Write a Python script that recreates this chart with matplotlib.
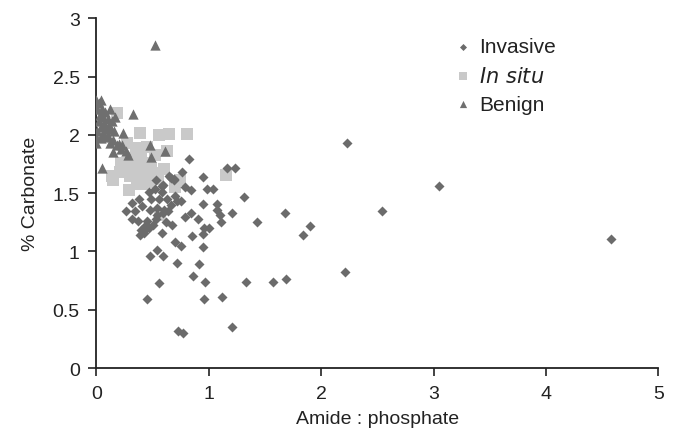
import matplotlib.pyplot as plt

plt.rcParams['font.family'] = ['Liberation Sans', 'DejaVu Sans']

# Invasive (diamonds)
invasive_x = [2.23, 3.05, 2.54, 4.58, 1.43, 1.68, 1.90, 1.84, 2.21, 1.57, 1.69,
              0.82, 1.16, 1.23, 0.95, 0.76, 0.98, 1.04, 0.84, 0.79, 1.31, 0.95,
              1.07, 1.07, 1.10, 1.11, 1.21, 1.00, 0.96, 0.95, 0.85, 0.67, 0.90,
              0.84, 0.79, 0.75, 0.58, 0.70, 0.75, 0.95, 0.54, 0.48, 0.59, 0.72,
              0.91, 0.86, 0.97, 1.33, 0.56, 0.45, 0.96, 1.12, 1.21, 0.73, 0.77,
              0.26, 0.32, 0.38, 0.32, 0.37, 0.41, 0.34, 0.47, 0.53, 0.52, 0.59,
              0.58, 0.65, 0.69, 0.49, 0.56, 0.63, 0.70, 0.48, 0.54, 0.60, 0.66,
              0.72, 0.45, 0.50, 0.44, 0.40, 0.39, 0.54, 0.59, 0.64, 0.53, 0.47,
              0.42, 0.66, 0.69, 0.58, 0.43, 0.62]
invasive_y = [1.93, 1.56, 1.35, 1.11, 1.25, 1.33, 1.22, 1.14, 0.82, 0.74, 0.76,
              1.79, 1.72, 1.72, 1.64, 1.68, 1.54, 1.54, 1.53, 1.55, 1.47, 1.41,
              1.41, 1.36, 1.31, 1.25, 1.33, 1.20, 1.20, 1.15, 1.13, 1.23, 1.28,
              1.33, 1.30, 1.43, 1.16, 1.08, 1.05, 1.04, 1.01, 0.96, 0.96, 0.90,
              0.89, 0.79, 0.74, 0.74, 0.73, 0.59, 0.59, 0.61, 0.35, 0.32, 0.30,
              1.35, 1.42, 1.45, 1.28, 1.26, 1.39, 1.35, 1.51, 1.61, 1.54, 1.57,
              1.51, 1.65, 1.62, 1.45, 1.45, 1.45, 1.48, 1.36, 1.37, 1.36, 1.40,
              1.43, 1.26, 1.23, 1.20, 1.18, 1.14, 1.31, 1.33, 1.35, 1.28, 1.20,
              1.16, 1.63, 1.61, 1.56, 1.22, 1.25]

# In situ (squares)
insitu_x = [0.18, 0.39, 0.56, 0.65, 0.81, 0.27, 0.35, 0.52, 0.63, 0.24, 0.33,
            0.22, 0.28, 0.42, 0.49, 0.60, 0.14, 0.21, 0.26, 0.30, 0.38, 0.45,
            0.52, 0.15, 0.29, 0.36, 0.42, 0.48, 0.55, 0.74, 0.70, 0.57, 1.15,
            0.31, 0.40, 0.46, 0.37, 0.45]
insitu_y = [2.19, 2.02, 2.00, 2.01, 2.01, 1.93, 1.89, 1.83, 1.86, 1.76, 1.75,
            1.76, 1.75, 1.71, 1.72, 1.71, 1.65, 1.68, 1.68, 1.65, 1.66, 1.66,
            1.67, 1.61, 1.53, 1.58, 1.58, 1.60, 1.62, 1.61, 1.55, 1.31, 1.66,
            1.79, 1.80, 1.76, 1.86, 1.90]

# Benign (triangles)
benign_x = [0.00, 0.04, 0.02, 0.01, 0.05, 0.08, 0.12, 0.17, 0.03, 0.06, 0.10,
            0.14, 0.02, 0.07, 0.11, 0.04, 0.09, 0.13, 0.01, 0.06, 0.16, 0.24,
            0.00, 0.04, 0.08, 0.15, 0.18, 0.00, 0.12, 0.20, 0.23, 0.22, 0.26,
            0.15, 0.28, 0.33, 0.52, 0.48, 0.61, 0.49, 0.05, 0.10, 0.06]
benign_y = [2.30, 2.30, 2.27, 2.22, 2.22, 2.20, 2.22, 2.15, 2.17, 2.15, 2.14,
            2.12, 2.12, 2.10, 2.08, 2.07, 2.05, 2.05, 2.03, 2.02, 2.03, 2.02,
            1.98, 1.97, 1.98, 1.96, 1.91, 1.93, 1.93, 1.92, 1.91, 1.88, 1.86,
            1.85, 1.83, 2.18, 2.77, 1.91, 1.86, 1.81, 1.72, 1.99, 2.08]

fig = plt.figure(figsize=(6.73, 4.35), dpi=100)
ax = fig.add_axes([0.1432, 0.1517, 0.835, 0.8037])

ax.scatter(invasive_x, invasive_y, marker='D', s=26, color='#6b6b6b',
           linewidths=0, label='Invasive', zorder=3)
ax.scatter(insitu_x, insitu_y, marker='s', s=66, color='#c9c9c9',
           linewidths=0, label='$\\it{In\\ situ}$', zorder=2)
ax.scatter(benign_x, benign_y, marker='^', s=55, color='#6f6f6f',
           linewidths=0, label='Benign', zorder=4)

ax.set_xlim(0, 5)
ax.set_ylim(0, 3)
ax.set_xticks([0, 1, 2, 3, 4, 5])
ax.set_yticks([0, 0.5, 1, 1.5, 2, 2.5, 3])
ax.set_yticklabels(['0', '0.5', '1', '1.5', '2', '2.5', '3'])

for side in ['top', 'right']:
    ax.spines[side].set_visible(False)
for side in ['left', 'bottom']:
    ax.spines[side].set_linewidth(1.3)
    ax.spines[side].set_color('#222222')
ax.tick_params(direction='out', length=6, width=1.2, color='#222222',
               labelsize=14, labelcolor='#222222', pad=6)

ax.set_xlabel('Amide : phosphate', fontsize=14, color='#222222', labelpad=6)
ax.set_ylabel('% Carbonate', fontsize=14, color='#222222', labelpad=10)

leg = ax.legend(loc='upper left', bbox_to_anchor=(0.6, 1.0), frameon=False,
                fontsize=15, markerscale=0.7, handletextpad=0.3,
                labelspacing=0.45, handlelength=1.0)
for t in leg.get_texts():
    t.set_color('#222222')

fig.savefig('out.png', dpi=100)
